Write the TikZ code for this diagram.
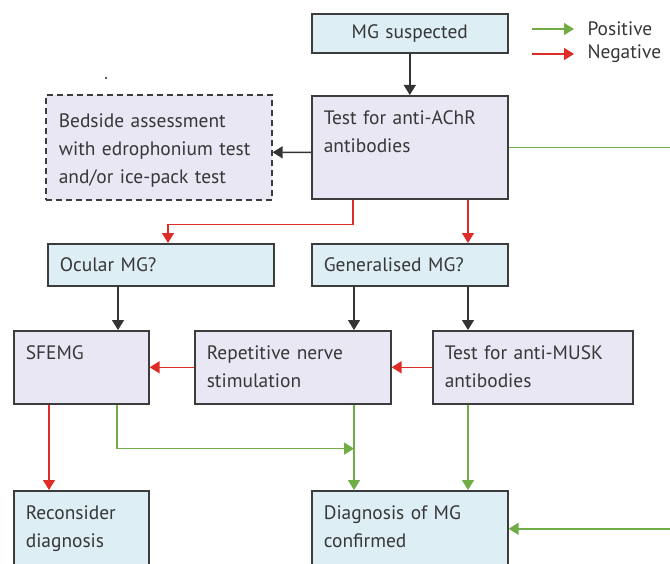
\documentclass[tikz,border=0pt]{standalone}
\usepackage{fontspec}
\setmainfont{PT Sans}
\usepackage{tikz}
\usetikzlibrary{positioning, arrows.meta}
\definecolor{stagefill}{RGB}{221,238,245}
\definecolor{testfill}{RGB}{233,231,244}
\definecolor{boxline}{RGB}{60,60,60}
\definecolor{textgrey}{RGB}{55,55,55}
\definecolor{posgreen}{RGB}{112,173,71}
\definecolor{negred}{RGB}{222,45,38}
\tikzset{stage/.style={
        draw=boxline,
        line width=1.6bp,
        rectangle,
        anchor=north west,
        inner xsep=12bp,
        inner ysep=0pt,
        align=left,
        text=textgrey,
        fill=stagefill
}}
\tikzset{testbox/.style={
        stage,
        fill=testfill
}}
\tikzset{optional/.style={
        testbox,
        dash pattern=on 6bp off 4bp
}}
\tikzset{flowedge/.style={draw=black!80,line width=1.4bp,-{Triangle[length=10bp,width=12bp]}}}
\tikzset{posedge/.style={flowedge,draw=posgreen}}
\tikzset{negedge/.style={flowedge,draw=negred}}

\begin{document}
\begin{tikzpicture}[x=1bp,y=-1bp,every node/.style={font=\fontsize{19.5}{28}\selectfont}]
\useasboundingbox (0,0) rectangle (670,564);
% boxes
\node[stage, text width=172bp, text height=25bp, text depth=14bp, align=center] (mgs) at (311,13) {MG suspected};
\node[testbox, text width=172bp, text height=29bp, text depth=74bp] (achr) at (311,95) {Test for anti-AChR\\antibodies};
\node[optional, text width=200bp, inner xsep=13bp, text height=33bp, text depth=72bp] (bedside) at (45,94) {Bedside assessment\\with edrophonium test\\and/or ice-pack test};
\node[stage, text width=202bp, text height=28bp, text depth=14bp] (ocular) at (47,243) {Ocular MG?};
\node[stage, text width=172bp, text height=28bp, text depth=14bp] (general) at (311,243) {Generalised MG?};
\node[testbox, text width=111bp, text height=29bp, text depth=44bp] (sfemg) at (13,330) {SFEMG};
\node[testbox, text width=172bp, text height=29bp, text depth=44bp] (rns) at (194,330) {Repetitive nerve\\stimulation};
\node[testbox, text width=176bp, text height=29bp, text depth=44bp] (musk) at (432,330) {Test for anti-MUSK\\antibodies};
\node[stage, text width=111bp, text height=29bp, text depth=47bp] (recon) at (13,490) {Reconsider\\diagnosis};
\node[stage, text width=172bp, text height=29bp, text depth=47bp] (confirmed) at (311,490) {Diagnosis of MG\\confirmed};
\node[circle, fill=black!70, inner sep=0pt, minimum size=2.5bp] (dot) at (106,78) {};

% legend
\node[anchor=west, text=textgrey] (positive) at (584,29) {Positive};
\node[anchor=west, text=textgrey] (negative) at (584,54) {Negative};
\coordinate[left=52bp of positive.west] (posstart);
\coordinate[left=52bp of negative.west] (negstart);
\draw[posedge] (posstart) -- ([xshift=-10bp]positive.west);
\draw[negedge] (negstart) -- ([xshift=-10bp]negative.west);

% arrows
\draw[flowedge] (mgs) -- (achr);
\draw[flowedge] ([yshift=-5bp]achr.west) -- ([yshift=-5bp]bedside.east);
\draw[negedge] ([xshift=42bp]achr.south west) -- ++(0,25) -| ([xshift=121bp]ocular.north west);
\draw[negedge] ([xshift=157bp]achr.south west) -- ([xshift=157bp]general.north west);
\draw[posedge] (achr.east) -- ++(170,0) |- (confirmed.east);
\draw[flowedge] ([xshift=71bp]ocular.south west) -- ([xshift=71bp]ocular.south west |- sfemg.north);
\draw[flowedge] ([xshift=43bp]general.south west) -- ([xshift=43bp]general.south west |- rns.north);
\draw[flowedge] ([xshift=157bp]general.south west) -- ([xshift=157bp]general.south west |- musk.north);
\draw[negedge] (musk.west) -- (rns.east);
\draw[negedge] (rns.west) -- (sfemg.east);
\draw[negedge] ([xshift=36bp]sfemg.south west) -- ([xshift=36bp]recon.north west);
\draw[posedge] ([xshift=104bp]sfemg.south west) |- ([xshift=160bp,yshift=-44bp]rns.south west);
\draw[posedge] ([xshift=160bp]rns.south west) -- ([xshift=160bp]rns.south west |- confirmed.north);
\draw[posedge] ([xshift=36bp]musk.south west) -- ([xshift=36bp]musk.south west |- confirmed.north);
\end{tikzpicture}
\end{document}
